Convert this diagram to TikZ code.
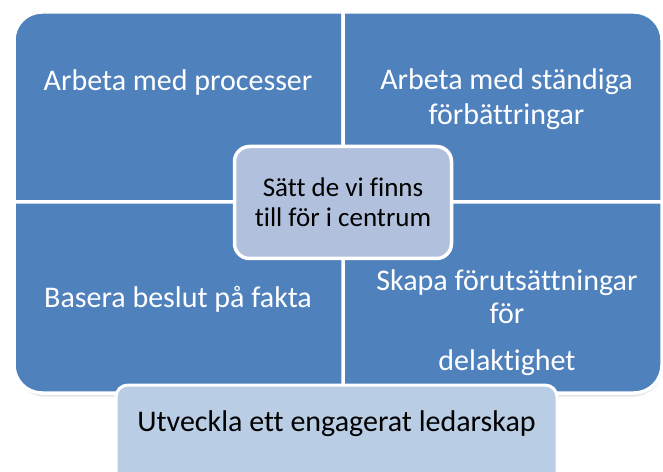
\documentclass[tikz,border=0pt]{standalone}
\usepackage{fontspec}
\setmainfont{Carlito}[Ligatures={NoCommon,NoContextual}]
\definecolor{qblue}{RGB}{79,129,189}
\definecolor{cboxc}{RGB}{177,193,221}
\definecolor{bboxc}{RGB}{185,205,229}
\begin{document}
\begin{tikzpicture}[x=1pt,y=1pt,
  quad/.style={fill=qblue, draw=white, line width=3.5pt, line join=round},
  qtext/.style={text=white, font=\fontsize{30}{35}\selectfont, align=center, inner sep=0pt},
  centerbox/.style={fill=cboxc, draw=white, line width=3.5pt, rounded corners=15pt,
    font=\fontsize{27}{30}\selectfont, align=center, text=black},
  leadbox/.style={fill=bboxc, draw=white, line width=3pt, rounded corners=12pt,
    font=\fontsize{30}{36}\selectfont, text=black, inner sep=0pt},
  shade1/.style={fill=black, opacity=0.06},
  shade2/.style={fill=black, opacity=0.08}]
\useasboundingbox (0,0) rectangle (663,471);
\clip (0,0) rectangle (663,471);
\def\qL{14}\def\qM{343}\def\qR{662}\def\qT{459}\def\qH{269}\def\qB{78}\def\qr{28}
% soft shadow of the matrix
\fill[shade1, rounded corners=30pt] (\qL+1,\qB-4) rectangle (\qR+1,\qT-2);
\fill[shade2, rounded corners=29pt] (\qL+0.5,\qB-2.5) rectangle (\qR+0.5,\qT-1);
% quadrants
\draw[quad] (\qL,\qH) -- (\qL,\qT-\qr) arc[start angle=180,end angle=90,radius=\qr] -- (\qM,\qT) -- (\qM,\qH) -- cycle;
\draw[quad] (\qM,\qT) -- (\qR-\qr,\qT) arc[start angle=90,end angle=0,radius=\qr] -- (\qR,\qH) -- (\qM,\qH) -- cycle;
\draw[quad] (\qM,\qH) -- (\qR,\qH) -- (\qR,\qB+\qr) arc[start angle=0,end angle=-90,radius=\qr] -- (\qM,\qB) -- cycle;
\draw[quad] (\qL,\qH) -- (\qM,\qH) -- (\qM,\qB) -- (\qL+\qr,\qB) arc[start angle=270,end angle=180,radius=\qr] -- cycle;
% quadrant texts
\node[qtext, anchor=base] (tl) at (178,380.3) {Arbeta med processer};
\node[qtext, anchor=base] (tr) at (506.5,346) {Arbeta med ständiga\\förbättringar};
\node[qtext, anchor=base] (bl) at (178,163) {Basera beslut på fakta};
\node[qtext, anchor=base, font=\fontsize{30}{32}\selectfont] (br) at (507,101) {Skapa förutsättningar\\för\\[15pt]delaktighet};
% centre
\node[centerbox, minimum width=217pt, minimum height=112pt] (centre) at (343,268.5) {Sätt de vi finns\\till för i centrum};
% bottom
\node[leadbox, anchor=north, minimum width=441pt, text height=46pt, text depth=60pt] (lead) at (336.5,87.5) {Utveckla ett engagerat ledarskap};
\end{tikzpicture}
\end{document}
